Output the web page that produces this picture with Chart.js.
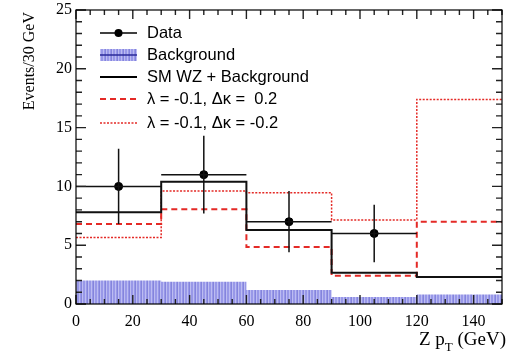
<!DOCTYPE html>
<html>
<head>
<meta charset="utf-8">
<script src="https://cdn.jsdelivr.net/npm/chart.js@4.4.0/dist/chart.umd.min.js"></script>
<style>
  html, body { margin: 0; padding: 0; background: #fff; overflow: hidden; }
  canvas { display: block; }
</style>
</head>
<body>
<canvas id="zpt" width="507" height="354"></canvas>
<script>
// bin edges in Z pT (GeV) and per-bin contents
const binEdges = [0, 30, 60, 90, 120, 150];
const dataX = [15, 45, 75, 105];
const dataY = [10, 11, 7, 6];
const dataErr = [3.2, 3.3, 2.6, 2.45];
const background = [2.0, 1.9, 1.2, 0.6, 0.8];
const smWZ = [7.8, 10.4, 6.3, 2.65, 2.3];
const lamKp02 = [6.8, 8.05, 4.85, 2.4, 7.0];
const lamKm02 = [5.65, 9.6, 9.45, 7.15, 17.4];
const xTicks = [0, 20, 40, 60, 80, 100, 120, 140];
const yTicks = [0, 5, 10, 15, 20, 25];
// minor/major tick steps for the inward frame ticks
const xMinorStep = 5, xMajorStep = 20;
const yMinorStep = 1, yMajorStep = 5;

const RED = '#e42a26';
const SERIF = '"Liberation Serif", "Times New Roman", serif';

function histPoints(vals) {
    const pts = vals.map((v, i) => ({x: binEdges[i], y: v}));
    pts.push({x: binEdges[binEdges.length - 1], y: vals[vals.length - 1]});
    return pts;
}

function makeHatch() {
    const c = document.createElement('canvas');
    c.width = 6; c.height = 4;
    const g = c.getContext('2d');
    g.fillStyle = '#9898e8';
    g.fillRect(0, 0, 6, 4);
    g.fillStyle = '#bcbcf2';
    g.fillRect(1, 0, 1, 4);
    g.fillRect(4, 0, 1, 4);
    g.fillStyle = '#8484dc';
    g.fillRect(3, 0, 1, 4);
    return g.createPattern(c, 'repeat');
}
const hatch = makeHatch();

// data error bars + inward frame ticks (ROOT style box)
const errorBars = {
    id: 'errorBars',
    afterDatasetsDraw(chart) {
        const ctx = chart.ctx;
        const a = chart.chartArea;
        const x = chart.scales.x, y = chart.scales.y;
        ctx.save();
        ctx.strokeStyle = '#111';
        ctx.lineWidth = 1.5;
        ctx.beginPath();
        dataX.forEach((cx, i) => {
            const px = x.getPixelForValue(cx);
            const py = y.getPixelForValue(dataY[i]);
            ctx.moveTo(px, y.getPixelForValue(dataY[i] + dataErr[i]));
            ctx.lineTo(px, y.getPixelForValue(dataY[i] - dataErr[i]));
            ctx.moveTo(x.getPixelForValue(binEdges[i]), py);
            ctx.lineTo(x.getPixelForValue(binEdges[i + 1]), py);
        });
        ctx.stroke();

        ctx.strokeStyle = '#222';
        ctx.lineWidth = 1.4;
        ctx.beginPath();
        for (let i = 0; i * xMinorStep <= 150; i++) {
            const v = i * xMinorStep;
            const px = x.getPixelForValue(v);
            const len = v % xMajorStep === 0 ? 9 : 5;
            ctx.moveTo(px, a.bottom); ctx.lineTo(px, a.bottom - len);
            ctx.moveTo(px, a.top); ctx.lineTo(px, a.top + len);
        }
        for (let i = 0; i * yMinorStep <= 25; i++) {
            const v = i * yMinorStep;
            const py = y.getPixelForValue(v);
            const len = v % yMajorStep === 0 ? 10 : 6;
            ctx.moveTo(a.left, py); ctx.lineTo(a.left + len, py);
            ctx.moveTo(a.right, py); ctx.lineTo(a.right - len, py);
        }
        ctx.stroke();
        ctx.strokeStyle = '#000';
        ctx.lineWidth = 1.2;
        ctx.strokeRect(a.left, a.top, a.right - a.left, a.bottom - a.top);
        ctx.restore();
    }
};

// legend + axis titles
const decorations = {
    id: 'decorations',
    afterDraw(chart) {
        const ctx = chart.ctx;
        ctx.save();
        const x0 = 100, x1 = 137, tx = 147;
        const rows = [33, 55, 77, 99, 123];
        ctx.font = '16.5px "Liberation Sans", Arial, sans-serif';
        ctx.textBaseline = 'middle';
        ctx.fillStyle = '#000';

        ctx.strokeStyle = '#000'; ctx.lineWidth = 1.5;
        ctx.beginPath(); ctx.moveTo(x0, rows[0]); ctx.lineTo(x1, rows[0]); ctx.stroke();
        ctx.beginPath(); ctx.arc((x0 + x1) / 2, rows[0], 4, 0, Math.PI * 2); ctx.fill();
        ctx.fillText('Data', tx, rows[0]);

        ctx.fillStyle = hatch;
        ctx.fillRect(x0, rows[1] - 6, x1 - x0, 12);
        ctx.strokeStyle = '#2a2a9a'; ctx.lineWidth = 1.5;
        ctx.beginPath(); ctx.moveTo(x0, rows[1]); ctx.lineTo(x1, rows[1]); ctx.stroke();
        ctx.fillStyle = '#000';
        ctx.fillText('Background', tx, rows[1]);

        ctx.strokeStyle = '#000'; ctx.lineWidth = 2;
        ctx.beginPath(); ctx.moveTo(x0, rows[2]); ctx.lineTo(x1, rows[2]); ctx.stroke();
        ctx.fillText('SM WZ + Background', tx, rows[2]);

        ctx.strokeStyle = RED; ctx.lineWidth = 2; ctx.setLineDash([6, 4]);
        ctx.beginPath(); ctx.moveTo(x0, rows[3]); ctx.lineTo(x1, rows[3]); ctx.stroke();
        ctx.setLineDash([2, 1.5]); ctx.lineWidth = 1.5;
        ctx.beginPath(); ctx.moveTo(x0, rows[4]); ctx.lineTo(x1, rows[4]); ctx.stroke();
        ctx.setLineDash([]);
        ctx.fillText('\u03bb = -0.1, \u0394\u03ba =  0.2', tx, rows[3]);
        ctx.fillText('\u03bb = -0.1, \u0394\u03ba = -0.2', tx, rows[4]);

        ctx.font = '16px ' + SERIF;
        ctx.save();
        ctx.translate(30, 12);
        ctx.rotate(-Math.PI / 2);
        ctx.textAlign = 'right';
        ctx.fillText('Events/30 GeV', 0, 0);
        ctx.restore();

        ctx.textBaseline = 'alphabetic';
        const big = '19px ' + SERIF, small = '13px ' + SERIF;
        ctx.font = big;
        const wA = ctx.measureText('Z p').width;
        const wC = ctx.measureText(' (GeV)').width;
        ctx.font = small;
        const wB = ctx.measureText('T').width;
        const px = 506 - wA - wB - wC;
        const base = 345;
        ctx.font = big;
        ctx.fillText('Z p', px, base);
        ctx.font = small;
        ctx.fillText('T', px + wA, base + 6);
        ctx.font = big;
        ctx.fillText(' (GeV)', px + wA + wB, base);
        ctx.restore();
    }
};

new Chart(document.getElementById('zpt'), {
    type: 'line',
    data: {
        datasets: [{
            label: 'Data',
            type: 'scatter',
            data: dataX.map((v, i) => ({x: v, y: dataY[i]})),
            showLine: false,
            pointRadius: 4,
            pointBackgroundColor: '#000',
            pointBorderColor: '#000',
            order: 1
        }, {
            label: 'SM WZ + Background',
            data: histPoints(smWZ),
            stepped: 'before',
            borderColor: '#111',
            borderWidth: 2,
            pointRadius: 0,
            fill: false,
            order: 2
        }, {
            label: 'lambda -0.1 dk 0.2',
            data: histPoints(lamKp02),
            stepped: 'before',
            borderColor: RED,
            borderWidth: 2,
            borderDash: [6, 4],
            pointRadius: 0,
            fill: false,
            order: 3
        }, {
            label: 'lambda -0.1 dk -0.2',
            data: histPoints(lamKm02),
            stepped: 'before',
            borderColor: RED,
            borderWidth: 1.5,
            borderDash: [2, 1.5],
            pointRadius: 0,
            fill: false,
            order: 4
        }, {
            label: 'Background',
            data: histPoints(background),
            stepped: 'before',
            borderWidth: 0,
            borderColor: 'rgba(0,0,0,0)',
            backgroundColor: hatch,
            pointRadius: 0,
            fill: 'origin',
            order: 5
        }]
    },
    options: {
        responsive: false,
        animation: false,
        layout: { padding: { top: 10, right: 1, left: 0, bottom: 0 } },
        plugins: { legend: { display: false }, tooltip: { enabled: false } },
        scales: {
            x: {
                type: 'linear',
                min: 0, max: 150,
                afterFit: s => { s.height = 50; s.paddingLeft = 0; s.paddingRight = 0; },
                afterBuildTicks: s => { s.ticks = xTicks.map(v => ({value: v})); },
                grid: { display: false, drawTicks: false },
                border: { display: false },
                ticks: { padding: 8, color: '#000', font: { family: SERIF, size: 16 } }
            },
            y: {
                min: 0, max: 25,
                afterFit: s => { s.width = 76; s.paddingTop = 0; s.paddingBottom = 0; },
                afterBuildTicks: s => { s.ticks = yTicks.map(v => ({value: v})); },
                grid: { display: false, drawTicks: false },
                border: { display: false },
                ticks: { padding: 4, color: '#000', font: { family: SERIF, size: 16 } }
            }
        }
    },
    plugins: [errorBars, decorations]
});
</script>
</body>
</html>
